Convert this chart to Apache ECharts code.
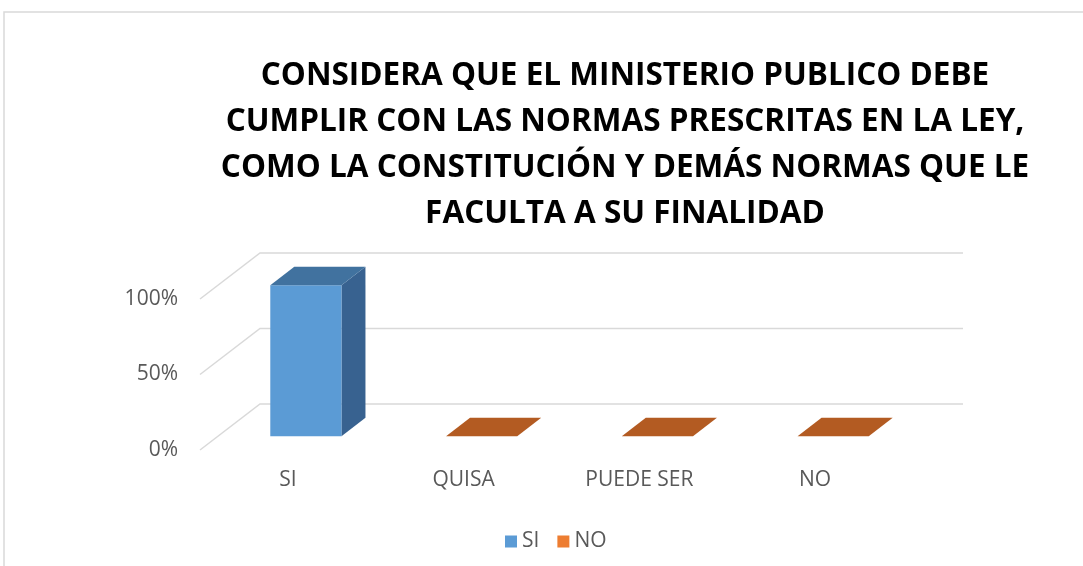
<!DOCTYPE html>
<html>
<head>
<meta charset="utf-8">
<script src="https://cdn.jsdelivr.net/npm/echarts@6/dist/echarts.min.js"></script>
<style>
  html, body { margin: 0; padding: 0; background: #fff; }
  #chart { width: 1083px; height: 566px; }
</style>
</head>
<body>
<div id="chart"></div>
<script>
var categories = ["SI", "QUISA", "PUEDE SER", "NO"];
var siValues = [1, null, null, null];
var noValues = [null, 0, 0, 0];
var yTicks = [0, 0.5, 1];

// 3D depth vector of the plot box (back wall offset)
var depthX = 60, depthY = -46;
var barFront = 0.3, barBack = 0.7, barWidthRatio = 0.405;

function bar3d(front, top, side) {
  return function (params, api) {
    var v = api.value(1);
    if (v == null || isNaN(v)) return;
    var cat = api.value(0);
    var base = api.coord([cat, 0]);
    var peak = api.coord([cat, v]);
    var w = api.size([1, 0])[0] * barWidthRatio;
    var fx = depthX * barFront, fy = depthY * barFront;
    var bx = depthX * barBack, by = depthY * barBack;
    var x0 = base[0] - w / 2 + fx, x1 = base[0] + w / 2 + fx;
    var yb = base[1] + fy, yt = peak[1] + fy;
    var dx = bx - fx, dy = by - fy;
    var children = [];
    if (yb - yt > 0.5) {
      children.push({
        type: "polygon",
        shape: { points: [[x1, yt], [x1 + dx, yt + dy], [x1 + dx, yb + dy], [x1, yb]] },
        style: { fill: side }
      });
      children.push({
        type: "rect",
        shape: { x: x0, y: yt, width: w, height: yb - yt },
        style: { fill: front }
      });
    }
    children.push({
      type: "polygon",
      shape: { points: [[x0, yt], [x0 + dx, yt + dy], [x1 + dx, yt + dy], [x1, yt]] },
      style: { fill: top }
    });
    return { type: "group", children: children };
  };
}

var chart = echarts.init(document.getElementById("chart"));
chart.setOption({
  animation: false,
  backgroundColor: "#fff",
  textStyle: { fontFamily: "Open Sans" },
  title: {
    text: "CONSIDERA QUE EL MINISTERIO PUBLICO DEBE\nCUMPLIR CON LAS NORMAS PRESCRITAS EN LA LEY,\nCOMO LA CONSTITUCIÓN Y DEMÁS NORMAS QUE LE\nFACULTA A SU FINALIDAD",
    left: 625,
    textAlign: "center",
    top: 53,
    padding: 0,
    textStyle: {
      fontFamily: "Open Sans",
      fontWeight: "bold",
      fontSize: 31.5,
      lineHeight: 46,
      color: "#000"
    }
  },
  graphic: [{
    type: "rect",
    shape: { x: 4, y: 12, width: 1200, height: 700 },
    style: { fill: null, stroke: "#d9d9d9", lineWidth: 1.5 },
    silent: true
  }],
  legend: {
    data: ["SI", "NO"],
    left: 500,
    top: 526,
    icon: "rect",
    itemWidth: 12,
    itemHeight: 12,
    itemGap: 18,
    textStyle: { color: "#595959", fontSize: 21, fontFamily: "Open Sans" }
  },
  grid: { left: 200, right: 180, top: 299, bottom: 116 },
  xAxis: {
    type: "category",
    data: categories,
    axisLine: { show: false },
    axisTick: { show: false },
    axisLabel: { color: "#595959", fontSize: 21, margin: 20 }
  },
  yAxis: {
    type: "value",
    min: 0,
    max: 1,
    interval: 0.5,
    axisLine: { show: false },
    axisTick: { show: false },
    splitLine: { show: false },
    axisLabel: {
      color: "#595959",
      fontSize: 21,
      margin: 22,
      formatter: function (v) { return Math.round(v * 100) + "%"; }
    }
  },
  series: [
    {
      type: "custom",
      name: "walls",
      silent: true,
      z: 1,
      data: yTicks.map(function (t) { return [0, t]; }),
      renderItem: function (params, api) {
        var cs = params.coordSys;
        var p = api.coord([0, api.value(1)]);
        var y = p[1];
        return {
          type: "polyline",
          shape: { points: [[cs.x, y], [cs.x + depthX, y + depthY], [cs.x + cs.width + depthX, y + depthY]] },
          style: { fill: null, stroke: "#d9d9d9", lineWidth: 1.5 }
        };
      }
    },
    {
      type: "custom",
      name: "SI",
      z: 3,
      itemStyle: { color: "#5b9bd5" },
      data: siValues.map(function (v, i) { return [i, v]; }),
      renderItem: bar3d("#5b9bd5", "#41729f", "#386290")
    },
    {
      type: "custom",
      name: "NO",
      z: 3,
      itemStyle: { color: "#ed7d31" },
      data: noValues.map(function (v, i) { return [i, v]; }),
      renderItem: bar3d("#ed7d31", "#b35b22", "#a9541d")
    }
  ]
});
</script>
</body>
</html>
